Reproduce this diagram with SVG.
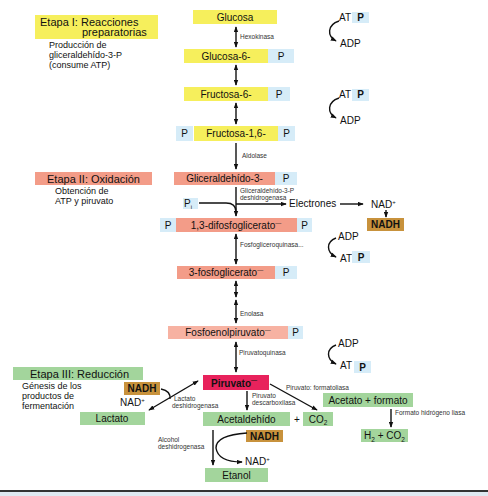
<svg xmlns="http://www.w3.org/2000/svg" width="488" height="496" viewBox="0 0 488 496">
<style>
text{font-family:"Liberation Sans",Arial,sans-serif;fill:#111}
.lbl{font-size:10px;text-anchor:middle}
.enz{font-size:6.5px;fill:#333}
.sub{font-size:9px}
.stage{font-size:11px}
.yel{fill:#f6ef5c}
.pb{fill:#d6ecf8}
.sal{fill:#f39c88}
.sal2{fill:#f7b2a2}
.grn{fill:#a3d59c}
.nadh{fill:#c8923c}
.ln{stroke:#111;stroke-width:1.4;fill:none}
.ar{stroke:#111;stroke-width:1.4;fill:none;marker-end:url(#ah)}
.dar{stroke:#111;stroke-width:1.4;fill:none;marker-end:url(#ah);marker-start:url(#ah)}
</style>
<defs>
<marker id="ah" viewBox="0 0 8 6" refX="7" refY="3" markerWidth="6" markerHeight="5" orient="auto-start-reverse" markerUnits="userSpaceOnUse">
<path d="M0,0 L8,3 L0,6 z" fill="#111"/>
</marker>
</defs>
<rect width="488" height="496" fill="#fff"/>

<!-- Stage labels -->
<g id="etapa1">
<rect x="35" y="15" width="123" height="24" class="yel"/>
<text x="40" y="25.5" class="stage">Etapa I: Reacciones</text>
<text x="82" y="36" class="stage">preparatorias</text>
<text x="49" y="48" class="sub">Producción de</text>
<text x="49" y="58" class="sub">gliceraldehído-3-P</text>
<text x="49" y="68" class="sub">(consume ATP)</text>
</g>
<g id="etapa2">
<rect x="35" y="172" width="117" height="13" class="sal"/>
<text x="47" y="182.5" class="stage">Etapa II: Oxidación</text>
<text x="55" y="194" class="sub">Obtención de</text>
<text x="55" y="204" class="sub">ATP y piruvato</text>
</g>
<g id="etapa3">
<rect x="13" y="367" width="130" height="13" class="grn"/>
<text x="30" y="377.5" class="stage">Etapa III: Reducción</text>
<text x="22" y="389" class="sub">Génesis de los</text>
<text x="22" y="399" class="sub">productos de</text>
<text x="22" y="409" class="sub">fermentación</text>
</g>

<!-- Main pathway nodes -->
<g id="glucosa">
<rect x="193" y="10" width="84" height="14" class="yel"/>
<text x="235" y="20.5" class="lbl">Glucosa</text>
</g>
<g id="glucosa6p">
<rect x="184" y="49" width="84" height="14" class="yel"/>
<rect x="268" y="49" width="26" height="14" class="pb"/>
<text x="226" y="59.5" class="lbl">Glucosa-6-</text>
<text x="281" y="59.5" class="lbl">P</text>
</g>
<g id="fructosa6p">
<rect x="184" y="87" width="84" height="14" class="yel"/>
<rect x="268" y="87" width="22" height="14" class="pb"/>
<text x="226" y="97.5" class="lbl">Fructosa-6-</text>
<text x="279" y="97.5" class="lbl">P</text>
</g>
<g id="fructosa16bp">
<rect x="176" y="126" width="17" height="15" class="pb"/>
<rect x="194" y="126" width="84" height="15" class="yel"/>
<rect x="278" y="126" width="17" height="15" class="pb"/>
<text x="184.5" y="137" class="lbl">P</text>
<text x="236" y="137" class="lbl">Fructosa-1,6-</text>
<text x="286.5" y="137" class="lbl">P</text>
</g>
<g id="gliceraldehido3p">
<rect x="174" y="172" width="101" height="13" class="sal"/>
<rect x="275" y="172" width="22" height="13" class="pb"/>
<text x="224.5" y="182" class="lbl">Gliceraldehído-3-</text>
<text x="286" y="182" class="lbl">P</text>
</g>
<g id="pi">
<rect x="183" y="198" width="15" height="11" class="pb"/>
<text x="188" y="207" class="lbl">P<tspan font-size="6" dy="2">i</tspan></text>
</g>
<g id="difosfoglicerato">
<rect x="160" y="218" width="16" height="14" class="pb"/>
<rect x="176" y="218" width="121" height="14" class="sal"/>
<rect x="297" y="218" width="15" height="14" class="pb"/>
<text x="168" y="228.5" class="lbl">P</text>
<text x="236" y="228.5" class="lbl">1,3-difosfoglicerato<tspan font-size="6" dy="-4">—</tspan></text>
<text x="304.5" y="228.5" class="lbl">P</text>
</g>
<g id="fosfoglicerato3">
<rect x="177" y="266" width="98" height="13" class="sal"/>
<rect x="275" y="266" width="22" height="13" class="pb"/>
<text x="226" y="276" class="lbl">3-fosfoglicerato<tspan font-size="6" dy="-4">—</tspan></text>
<text x="286" y="276" class="lbl">P</text>
</g>
<g id="fosfoenolpiruvato">
<rect x="168" y="326" width="120" height="13" class="sal2"/>
<rect x="288" y="326" width="15" height="13" class="pb"/>
<text x="228" y="336" class="lbl">Fosfoenolpiruvato<tspan font-size="6" dy="-4">—</tspan></text>
<text x="295.5" y="336" class="lbl">P</text>
</g>
<g id="piruvato">
<rect x="203" y="375" width="66" height="15" fill="#e8225c"/>
<text x="234" y="387" class="lbl" font-size="12.5" font-weight="bold">Piruvato<tspan font-size="6" dy="-5">—</tspan></text>
</g>
<g id="lactato">
<rect x="80" y="412" width="65" height="13" class="grn"/>
<text x="112" y="422" class="lbl">Lactato</text>
</g>
<g id="nadh-lact">
<rect x="124" y="382" width="36" height="13" class="nadh"/>
<text x="142" y="392" class="lbl" font-weight="bold">NADH</text>
<text x="120" y="406" font-size="10">NAD<tspan font-size="6" dy="-4">+</tspan></text>
</g>
<g id="acetaldehido">
<rect x="203" y="412" width="87" height="14" class="grn"/>
<text x="246.5" y="422.5" class="lbl">Acetaldehído</text>
<text x="297" y="422.5" class="lbl">+</text>
</g>
<g id="co2">
<rect x="303" y="412" width="30" height="14" class="grn"/>
<text x="318" y="422.5" class="lbl">CO<tspan font-size="6.5" dy="2.5">2</tspan></text>
</g>
<g id="acetatoformato">
<rect x="323" y="393" width="90" height="14" class="grn"/>
<text x="368" y="403.5" class="lbl">Acetato + formato</text>
</g>
<g id="h2co2">
<rect x="361" y="429" width="47" height="13" class="grn"/>
<text x="384.5" y="439" class="lbl">H<tspan font-size="6.5" dy="2.5">2</tspan><tspan dy="-2.5"> + CO</tspan><tspan font-size="6.5" dy="2.5">2</tspan></text>
</g>
<g id="nadh-etanol">
<rect x="246" y="430" width="37" height="12" class="nadh"/>
<text x="264.5" y="439.5" class="lbl" font-weight="bold">NADH</text>
<text x="245" y="465" font-size="10">NAD<tspan font-size="6" dy="-4">+</tspan></text>
</g>
<g id="etanol">
<rect x="205" y="468" width="63" height="14" class="grn"/>
<text x="236.5" y="478.5" class="lbl">Etanol</text>
</g>
<g id="nadh-gap">
<text x="371" y="208" font-size="10">NAD<tspan font-size="6" dy="-4">+</tspan></text>
<rect x="367" y="218" width="37" height="13" class="nadh"/>
<text x="385.5" y="228" class="lbl" font-weight="bold">NADH</text>
</g>
<g id="atp1">
<text x="339" y="21" font-size="10">AT</text>
<rect x="352" y="12" width="17" height="11" class="pb"/>
<text x="360.5" y="21" class="lbl" font-weight="bold" fill="#223">P</text>
<text x="340" y="47" font-size="10">ADP</text>
</g>
<g id="atp2">
<text x="339" y="98" font-size="10">AT</text>
<rect x="352" y="89" width="17" height="12" class="pb"/>
<text x="360.5" y="98" class="lbl" font-weight="bold" fill="#223">P</text>
<text x="340" y="124" font-size="10">ADP</text>
</g>
<g id="atp3">
<text x="338" y="240" font-size="10">ADP</text>
<text x="340" y="262" font-size="10">AT</text>
<rect x="352" y="251" width="18" height="12" class="pb"/>
<text x="361" y="261" class="lbl" font-weight="bold" fill="#223">P</text>
</g>
<g id="atp4">
<text x="338" y="347" font-size="10">ADP</text>
<text x="340" y="369" font-size="10">AT</text>
<rect x="354" y="361" width="17" height="12" class="pb"/>
<text x="362.5" y="370.5" class="lbl" font-weight="bold" fill="#223">P</text>
</g>

<!-- Connectors -->
<g id="connectors">
<path class="dar" d="M236 27 V47"/>
<path class="dar" d="M236 65 V85"/>
<path class="dar" d="M236 103 V124"/>
<path class="ar" d="M236 143 V169"/>
<path class="ar" d="M236 187 V216"/>
<path class="ln" d="M199 203 H226 Q236 203 236 212"/>
<path class="ar" d="M236 204 H286"/>
<text x="289" y="207" font-size="10">Electrones</text>
<path class="ar" d="M340 204 H363"/>
<path class="ar" d="M386 210 V217"/>
<path class="dar" d="M236 234 V264"/>
<path class="dar" d="M236 281 V297"/>
<path class="dar" d="M236 300 V323"/>
<path class="dar" d="M236 342 V372"/>
<path class="ar" d="M247 391 V410"/>
<path class="ar" d="M270 384 L317 410"/>
<path class="ar" d="M391 409 V427"/>
<path class="ar" d="M213 430 V465"/>
<path class="ar" d="M247 433 Q216 435 216 448 Q218 462 242 462"/>
<path class="dar" d="M149 410 L198 381"/>
<path class="ln" d="M161 389 Q171 391 170 399"/>
<path class="ar" d="M339 21 C327 25 327 36 336 41"/>
<path class="ar" d="M339 98 C327 102 327 113 336 118"/>
<path class="ar" d="M336 238 C326 242 326 252 336 257"/>
<path class="ar" d="M336 345 C326 349 326 359 336 364"/>
<text x="240" y="39" class="enz">Hexokinasa</text>
<text x="242" y="158" class="enz">Aldolase</text>
<text x="240" y="193" class="enz">Gliceraldehído-3-P</text>
<text x="240" y="200" class="enz">deshidrogenasa</text>
<text x="240" y="247" class="enz">Fosfogliceroquinasa...</text>
<text x="240" y="316" class="enz">Enolasa</text>
<text x="239" y="355" class="enz">Piruvatoquinasa</text>
<text x="286" y="390" class="enz">Piruvato: formatoliasa</text>
<text x="252" y="398" class="enz">Piruvato</text>
<text x="252" y="405" class="enz">descarboxilasa</text>
<text x="174" y="401" class="enz">Lactato</text>
<text x="172" y="408" class="enz">deshidrogenasa</text>
<text x="158" y="442" class="enz">Alcohol</text>
<text x="158" y="449" class="enz">deshidrogenasa</text>
<text x="395" y="415" class="enz">Formato hidrógeno liasa</text>
</g>

<!-- bottom rule -->
<rect x="0" y="492" width="488" height="4" fill="#dfe9f1"/>
<line x1="0" y1="491" x2="488" y2="491" stroke="#333" stroke-width="2"/>
</svg>
